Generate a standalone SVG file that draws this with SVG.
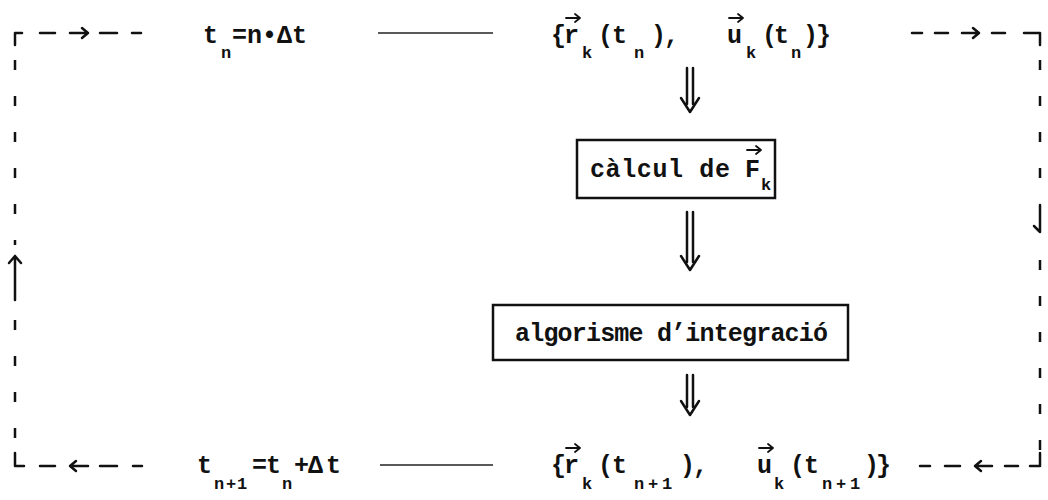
<svg xmlns="http://www.w3.org/2000/svg" width="1048" height="500" viewBox="0 0 1048 500">
<style>
.t{font-family:"Liberation Mono","DejaVu Sans Mono",monospace;font-size:25px;font-weight:bold;fill:#111}
.s{font-family:"Liberation Mono","DejaVu Sans Mono",monospace;font-size:17px;font-weight:bold;fill:#111}
.box{fill:none;stroke:#111;stroke-width:2.5}
.ln{fill:none;stroke:#111;stroke-width:2.5;stroke-linecap:round;stroke-linejoin:round}
.thin{fill:none;stroke:#222;stroke-width:1.6}
.dash{fill:none;stroke:#111;stroke-width:2.5;stroke-dasharray:10 26}
.vec{fill:none;stroke:#111;stroke-width:1.8;stroke-linecap:round;stroke-linejoin:round}
</style>
<defs>
<path id="vecA" class="vec" d="M0,0 H14 M9,-4 L14,0 L9,4"/>
</defs>

<g id="tn">
<text class="t" x="203" y="43">t</text>
<text class="s" x="221" y="58">n</text>
<text class="t" x="232" y="43">=n•Δt</text>
</g>

<g id="state-n">
<text class="t" x="551 564" y="43">{r</text>
<text class="s" x="582" y="58">k</text>
<text class="t" x="598 612" y="43">(t</text>
<text class="s" x="634" y="58">n</text>
<text class="t" x="651 664" y="43">),</text>
<use href="#vecA" x="566" y="18"/>
<text class="t" x="727" y="43">u</text>
<text class="s" x="746" y="58">k</text>
<text class="t" x="762 774" y="43">(t</text>
<text class="s" x="791" y="58">n</text>
<text class="t" x="803 816" y="43">)}</text>
<use href="#vecA" x="729" y="18"/>
</g>

<g id="calc">
<rect class="box" x="577" y="140" width="198" height="58"/>
<text class="t" x="590" y="177" textLength="140" lengthAdjust="spacing">càlcul de</text>
<text class="t" x="745" y="177">F</text>
<use href="#vecA" x="747" y="150"/>
<text class="s" x="761" y="190">k</text>
</g>

<g id="integ">
<rect class="box" x="493" y="305" width="355" height="55"/>
<text class="t" x="515" y="341" textLength="313" lengthAdjust="spacing">algorisme d’integració</text>
</g>

<g id="tn1">
<text class="t" x="197" y="473">t</text>
<text class="s" x="214 226 237" y="489">n+1</text>
<text class="t" x="252 266" y="473">=t</text>
<text class="s" x="282" y="489">n</text>
<text class="t" x="294 308 326" y="473">+Δt</text>
</g>

<g id="state-n1">
<text class="t" x="551 564" y="473">{r</text>
<text class="s" x="582" y="489">k</text>
<text class="t" x="598 612" y="473">(t</text>
<text class="s" x="634 648 662" y="489">n+1</text>
<text class="t" x="680 693" y="473">),</text>
<use href="#vecA" x="566" y="448"/>
<text class="t" x="757" y="473">u</text>
<text class="s" x="774" y="489">k</text>
<text class="t" x="790 804" y="473">(t</text>
<text class="s" x="822 836 850" y="489">n+1</text>
<text class="t" x="864 876" y="473">)}</text>
<use href="#vecA" x="759" y="448"/>
</g>

<g id="connectors">
<path class="thin" d="M378,33 H493"/>
<path class="thin" d="M380,465 H493"/>
<path class="ln" d="M687,68 V104 M693,68 V104 M681,98 L690,112 L699,98"/>
<path class="ln" d="M687,212 V262 M693,212 V262 M681,256 L690,270 L699,256"/>
<path class="ln" d="M687,375 V407 M693,375 V407 M681,401 L690,415 L699,401"/>
<path class="ln" d="M15,45 V33 H22"/>
<path class="ln" d="M40,33 H55 M100,33 H117 M132,33 H141"/>
<path class="ln" d="M70,33 H88 M82,28 L88,33 L82,38"/>
<path class="ln" d="M912,33 H922 M935,33 H948 M992,33 H1005"/>
<path class="ln" d="M962,33 H979 M973,28 L979,33 L973,38"/>
<path class="ln" d="M1024,33 H1040 V45"/>
<path class="ln" d="M15,453 V466 H24"/>
<path class="ln" d="M40,466 H55 M100,466 H117 M133,466 H142"/>
<path class="ln" d="M70,466 H88 M76,461 L70,466 L76,471"/>
<path class="ln" d="M920,466 H930 M945,466 H960 M1005,466 H1018"/>
<path class="ln" d="M975,466 H992 M981,461 L975,466 L981,471"/>
<path class="ln" d="M1030,466 H1040 V453"/>
<path class="dash" d="M15,60 V245"/>
<path class="dash" d="M15,320 V450"/>
<path class="ln" d="M15,300 V256 M9,263 L15,256 L21,263"/>
<path class="dash" d="M1040,60 V200"/>
<path class="ln" d="M1040,205 V232 M1034,226 L1040,232"/>
<path class="dash" d="M1040,260 V450"/>
</g>
</svg>
